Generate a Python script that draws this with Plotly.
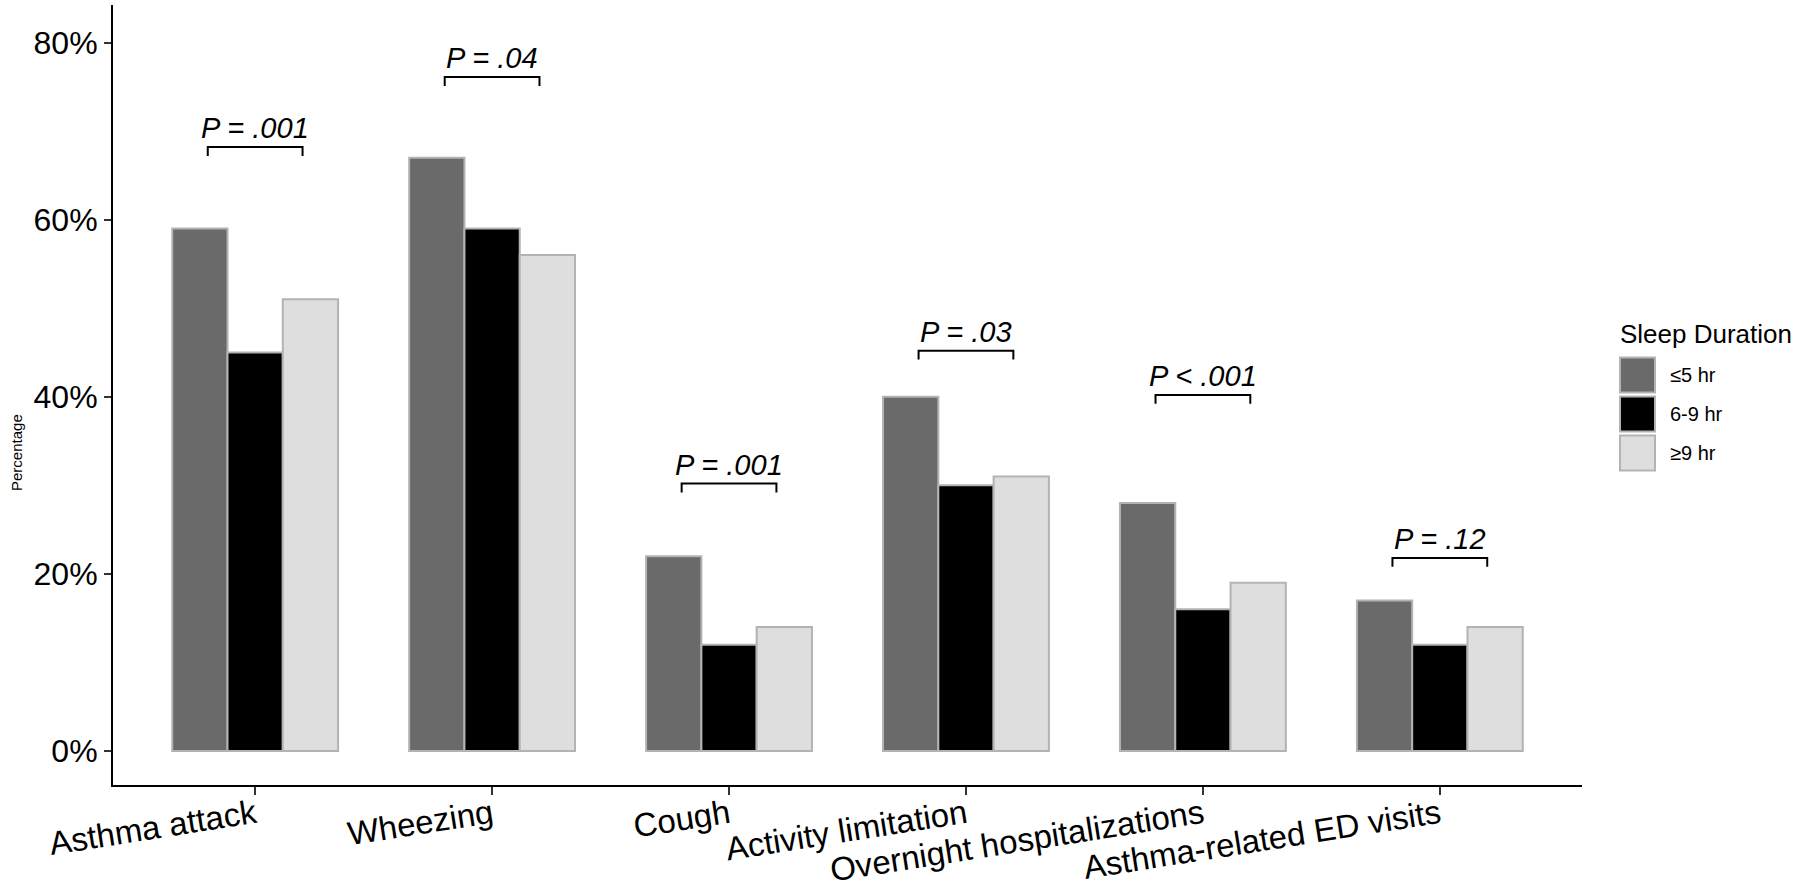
import plotly.graph_objects as go

categories = ["Asthma attack", "Wheezing", "Cough", "Activity limitation",
              "Overnight hospitalizations", "Asthma-related ED visits"]
groups = ["≤5 hr", "6-9 hr", "≥9 hr"]
le5 = [59, 67, 22, 40, 28, 17]
mid = [45, 59, 12, 30, 16, 12]
ge9 = [51, 56, 14, 31, 19, 14]
series = [le5, mid, ge9]
p_labels = ["P = .001", "P = .04", "P = .001", "P = .03", "P < .001", "P = .12"]
bracket_y = [68.2, 76.1, 30.2, 45.2, 40.2, 21.8]
y_ticks = [0, 20, 40, 60, 80]
y_ticktext = [f"{v}%" for v in y_ticks]

colors = ["#6a6a6a", "#000000", "#dedede"]
edge = "#b3b3b3"
FONT = "Liberation Sans, Arial, Helvetica, sans-serif"

W, H = 1800, 892
L, R, T, B = 113, 218, 5, 107
pw, ph = W - L - R, H - T - B


def px(xp):
    return (xp - L) / pw


def py(yp):
    return (H - B - yp) / ph


xs = list(range(len(categories)))
fig = go.Figure()
for name, vals, col in zip(groups, series, colors):
    fig.add_trace(go.Bar(
        x=xs, y=vals, name=name, marker=dict(color=col, line=dict(color=edge, width=2)),
        showlegend=False, hoverinfo="skip"))

for i, (h, lab) in enumerate(zip(bracket_y, p_labels)):
    fig.add_trace(go.Scatter(
        x=[i - 0.2, i - 0.2, i + 0.2, i + 0.2], y=[h - 1, h, h, h - 1],
        mode="lines", line=dict(color="black", width=2), showlegend=False,
        hoverinfo="skip"))
    fig.add_annotation(x=i, y=h, text="<i>" + lab + "</i>", showarrow=False,
                       xref="x", yref="y", yanchor="bottom", yshift=1,
                       font=dict(family=FONT, size=29, color="black"))

# y-axis title (placed where the reference puts it)
fig.add_annotation(x=px(17), y=py(453), xref="paper", yref="paper",
                   xanchor="center", yanchor="middle", showarrow=False,
                   textangle=-90, text="Percentage",
                   font=dict(family=FONT, size=15, color="black"))

# custom legend (ggplot style keys)
fig.add_annotation(x=px(1618), y=py(334), xref="paper", yref="paper",
                   xanchor="left", yanchor="middle", showarrow=False,
                   text="Sleep Duration", font=dict(family=FONT, size=26, color="black"))
key_centers = [375, 414, 453]
for name, col, cy in zip(groups, colors, key_centers):
    fig.add_shape(type="rect", xref="paper", yref="paper",
                  x0=px(1620), x1=px(1655), y0=py(cy - 17.5), y1=py(cy + 17.5),
                  fillcolor=col, line=dict(color=edge, width=2))
    fig.add_annotation(x=px(1668), y=py(cy), xref="paper", yref="paper",
                       xanchor="left", yanchor="middle", showarrow=False,
                       text=name, font=dict(family=FONT, size=20, color="black"))

fig.update_layout(
    width=W, height=H,
    margin=dict(l=L, r=R, t=T, b=B, autoexpand=False),
    paper_bgcolor="white", plot_bgcolor="white",
    barmode="group", bargap=0.3, bargroupgap=0,
    font=dict(family=FONT, color="black"),
    showlegend=False,
)
fig.update_xaxes(
    range=[-0.6, len(categories) - 0.4], tickvals=xs, ticktext=categories,
    tickangle=-9, ticklabelstandoff=-12,
    tickfont=dict(family=FONT, size=33, color="black"),
    showline=True, linecolor="black", linewidth=2, mirror=False,
    ticks="outside", ticklen=8, tickwidth=1.5, tickcolor="#333333",
    showgrid=False, zeroline=False, automargin=False)
fig.update_yaxes(
    range=[-3.84, 84.24], tickvals=y_ticks, ticktext=y_ticktext,
    tickfont=dict(family=FONT, size=32, color="black"),
    showline=True, linecolor="black", linewidth=2,
    ticks="outside", ticklen=7, tickwidth=1.5, tickcolor="#333333",
    showgrid=False, zeroline=False, automargin=False)

fig.write_html("out.html", config={"displayModeBar": False},
               post_script="document.body.style.margin='0';document.body.style.overflow='hidden';")
